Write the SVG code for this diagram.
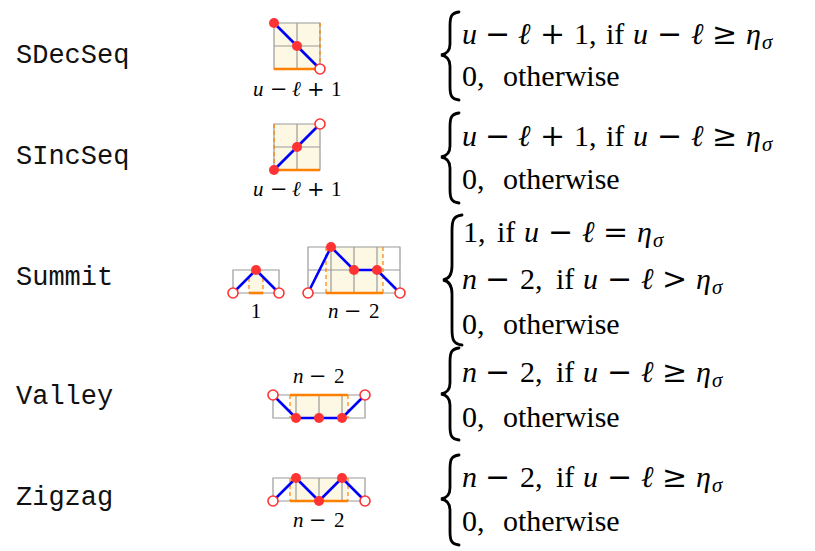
<svg xmlns="http://www.w3.org/2000/svg" width="815" height="551" viewBox="0 0 815 551">
<style>
.lbl{font-family:"Liberation Mono","DejaVu Sans Mono",monospace;font-size:27px;fill:#111}
.m{font-family:"Liberation Serif","DejaVu Serif",serif;font-size:30px;fill:#000}
.i{font-style:italic}
.op{font-family:"DejaVu Serif",serif}
.sub{font-style:italic;font-size:21px}
.s{font-family:"Liberation Serif","DejaVu Serif",serif;font-size:21px;fill:#000}
.grid{fill:none;stroke:#9a9a9a;stroke-width:1.2}
.cell{fill:#fdf8e4;stroke:none}
.blue{fill:none;stroke:#0000ff;stroke-width:2.6;stroke-linejoin:round}
.orange{fill:none;stroke:#ff8000;stroke-width:2.6}
.odash{fill:none;stroke:#ff8000;stroke-width:1.2;stroke-dasharray:4 3}
.rd{fill:#ff3333}
.oc{fill:#fff;stroke:#ff3333;stroke-width:1.6}
.brace{fill:none;stroke:#000;stroke-width:2.8;stroke-linecap:round}
</style>

<!-- SDecSeq -->
<g id="sdecseq">
<text class="lbl" x="16" y="63">SDecSeq</text>
<rect class="cell" x="274" y="23" width="46" height="46"/>
<path class="grid" d="M274 23H320V69H274Z M297 23V69 M274 46H320"/>
<path class="odash" d="M320 23V69"/>
<path class="orange" d="M274 69H320"/>
<path class="blue" d="M274 23L320 69"/>
<circle class="rd" cx="274" cy="23" r="5"/>
<circle class="rd" cx="297" cy="46" r="5"/>
<circle class="oc" cx="320" cy="69" r="5"/>
<text class="s" y="96"><tspan class="i" x="253">u</tspan><tspan class="op" x="270">−</tspan><tspan class="i" x="292">ℓ</tspan><tspan class="op" x="307">+</tspan><tspan x="331">1</tspan></text>
<path class="brace" d="M459 12C451 13 450 17 450 26L450 44C450 50 447 54 441 55C447 56 450 60 450 66L450 86C450 95 451 99 459 100"/>
<text class="m" y="44"><tspan class="i" x="462">u</tspan><tspan class="op" x="485">−</tspan><tspan class="i" x="518">ℓ</tspan><tspan class="op" x="540">+</tspan><tspan x="574">1,</tspan><tspan x="606">if</tspan><tspan class="i" x="633">u</tspan><tspan class="op" x="657">−</tspan><tspan class="i" x="691">ℓ</tspan><tspan class="op" x="712">≥</tspan><tspan class="i" x="746">η</tspan><tspan class="sub" x="762" dy="5">σ</tspan></text>
<text class="m" y="86"><tspan x="462">0,</tspan><tspan x="503">otherwise</tspan></text>
</g>

<!-- SIncSeq -->
<g id="sincseq">
<text class="lbl" x="16" y="164">SIncSeq</text>
<rect class="cell" x="274" y="124" width="46" height="46"/>
<path class="grid" d="M274 124H320V170H274Z M297 124V170 M274 147H320"/>
<path class="odash" d="M274 124V170"/>
<path class="orange" d="M274 170H320"/>
<path class="blue" d="M274 170L320 124"/>
<circle class="rd" cx="274" cy="170" r="5"/>
<circle class="rd" cx="297" cy="147" r="5"/>
<circle class="oc" cx="320" cy="124" r="5"/>
<text class="s" y="196"><tspan class="i" x="253">u</tspan><tspan class="op" x="270">−</tspan><tspan class="i" x="292">ℓ</tspan><tspan class="op" x="307">+</tspan><tspan x="331">1</tspan></text>
<path class="brace" d="M459 113C451 114 450 118 450 127L450 146C450 152 447 156 441 157C447 158 450 162 450 168L450 189C450 198 451 202 459 203"/>
<text class="m" y="146"><tspan class="i" x="462">u</tspan><tspan class="op" x="485">−</tspan><tspan class="i" x="518">ℓ</tspan><tspan class="op" x="540">+</tspan><tspan x="574">1,</tspan><tspan x="606">if</tspan><tspan class="i" x="633">u</tspan><tspan class="op" x="657">−</tspan><tspan class="i" x="691">ℓ</tspan><tspan class="op" x="712">≥</tspan><tspan class="i" x="746">η</tspan><tspan class="sub" x="762" dy="5">σ</tspan></text>
<text class="m" y="189"><tspan x="462">0,</tspan><tspan x="503">otherwise</tspan></text>
</g>

<!-- Summit -->
<g id="summit">
<text class="lbl" x="16" y="285">Summit</text>
<rect class="cell" x="249" y="270" width="14" height="23"/>
<path class="grid" d="M233 270H279V293H233Z"/>
<path class="odash" d="M249 278V293 M263 278V293"/>
<path class="orange" d="M249 293H263"/>
<path class="blue" d="M233 293L256 270L279 293"/>
<circle class="rd" cx="256" cy="270" r="5"/>
<circle class="oc" cx="233" cy="293" r="5"/>
<circle class="oc" cx="279" cy="293" r="5"/>
<text class="s" x="256" y="318" text-anchor="middle">1</text>

<rect class="cell" x="326" y="247" width="57" height="46"/>
<path class="grid" d="M308 247H400V293H308Z M331 247V293 M354 247V293 M377 247V293 M308 270H400"/>
<path class="odash" d="M326 247V293 M383 247V293"/>
<path class="orange" d="M326 293H383"/>
<path class="blue" d="M308 293L331 247L354 270L377 270L400 293"/>
<circle class="rd" cx="331" cy="247" r="5"/>
<circle class="rd" cx="354" cy="270" r="5"/>
<circle class="rd" cx="377" cy="270" r="5"/>
<circle class="oc" cx="308" cy="293" r="5"/>
<circle class="oc" cx="400" cy="293" r="5"/>
<text class="s" y="318"><tspan class="i" x="328">n</tspan><tspan class="op" x="344">−</tspan><tspan x="369">2</tspan></text>
<path class="brace" d="M462 215C453 216 452 221 452 231L452 266C452 274 449 279 443 280C449 281 452 286 452 294L452 329C452 339 453 344 462 345"/>
<text class="m" y="242"><tspan x="463">1,</tspan><tspan x="497">if</tspan><tspan class="i" x="524">u</tspan><tspan class="op" x="548">−</tspan><tspan class="i" x="582">ℓ</tspan><tspan class="op" x="603">=</tspan><tspan class="i" x="637">η</tspan><tspan class="sub" x="653" dy="5">σ</tspan></text>
<text class="m" y="289"><tspan class="i" x="462">n</tspan><tspan class="op" x="485">−</tspan><tspan x="520">2,</tspan><tspan x="556">if</tspan><tspan class="i" x="583">u</tspan><tspan class="op" x="607">−</tspan><tspan class="i" x="641">ℓ</tspan><tspan class="op" x="662">&gt;</tspan><tspan class="i" x="696">η</tspan><tspan class="sub" x="712" dy="5">σ</tspan></text>
<text class="m" y="334"><tspan x="462">0,</tspan><tspan x="503">otherwise</tspan></text>
</g>

<!-- Valley -->
<g id="valley">
<text class="lbl" x="16" y="404">Valley</text>
<rect class="cell" x="290" y="395" width="58" height="23"/>
<path class="grid" d="M273 395H365V418H273Z M296 395V418 M319 395V418 M342 395V418"/>
<path class="odash" d="M290 395V418 M348 395V418"/>
<path class="orange" d="M290 395H348"/>
<path class="blue" d="M273 395L296 418L342 418L365 395"/>
<circle class="rd" cx="296" cy="418" r="5"/>
<circle class="rd" cx="319" cy="418" r="5"/>
<circle class="rd" cx="342" cy="418" r="5"/>
<circle class="oc" cx="273" cy="395" r="5"/>
<circle class="oc" cx="365" cy="395" r="5"/>
<text class="s" y="383"><tspan class="i" x="293">n</tspan><tspan class="op" x="309">−</tspan><tspan x="334">2</tspan></text>
<path class="brace" d="M459 348C451 349 450 353 450 362L450 383C450 389 447 393 441 394C447 395 450 399 450 405L450 426C450 435 451 439 459 440"/>
<text class="m" y="382"><tspan class="i" x="462">n</tspan><tspan class="op" x="485">−</tspan><tspan x="520">2,</tspan><tspan x="556">if</tspan><tspan class="i" x="583">u</tspan><tspan class="op" x="607">−</tspan><tspan class="i" x="641">ℓ</tspan><tspan class="op" x="662">≥</tspan><tspan class="i" x="696">η</tspan><tspan class="sub" x="712" dy="5">σ</tspan></text>
<text class="m" y="427"><tspan x="462">0,</tspan><tspan x="503">otherwise</tspan></text>
</g>

<!-- Zigzag -->
<g id="zigzag">
<text class="lbl" x="16" y="505">Zigzag</text>
<rect class="cell" x="290" y="478" width="58" height="23"/>
<path class="grid" d="M273 478H365V501H273Z M296 478V501 M319 478V501 M342 478V501"/>
<path class="odash" d="M290 478V501 M348 478V501"/>
<path class="orange" d="M290 501H348"/>
<path class="blue" d="M273 501L296 478L319 501L342 478L365 501"/>
<circle class="rd" cx="296" cy="478" r="5"/>
<circle class="rd" cx="319" cy="501" r="5"/>
<circle class="rd" cx="342" cy="478" r="5"/>
<circle class="oc" cx="273" cy="501" r="5"/>
<circle class="oc" cx="365" cy="501" r="5"/>
<text class="s" y="527"><tspan class="i" x="293">n</tspan><tspan class="op" x="309">−</tspan><tspan x="334">2</tspan></text>
<path class="brace" d="M459 455C451 456 450 460 450 469L450 488C450 494 447 498 441 499C447 500 450 504 450 510L450 531C450 540 451 544 459 545"/>
<text class="m" y="487"><tspan class="i" x="462">n</tspan><tspan class="op" x="485">−</tspan><tspan x="520">2,</tspan><tspan x="556">if</tspan><tspan class="i" x="583">u</tspan><tspan class="op" x="607">−</tspan><tspan class="i" x="641">ℓ</tspan><tspan class="op" x="662">≥</tspan><tspan class="i" x="696">η</tspan><tspan class="sub" x="712" dy="5">σ</tspan></text>
<text class="m" y="531"><tspan x="462">0,</tspan><tspan x="503">otherwise</tspan></text>
</g>

<g id="connectors"></g>
</svg>
